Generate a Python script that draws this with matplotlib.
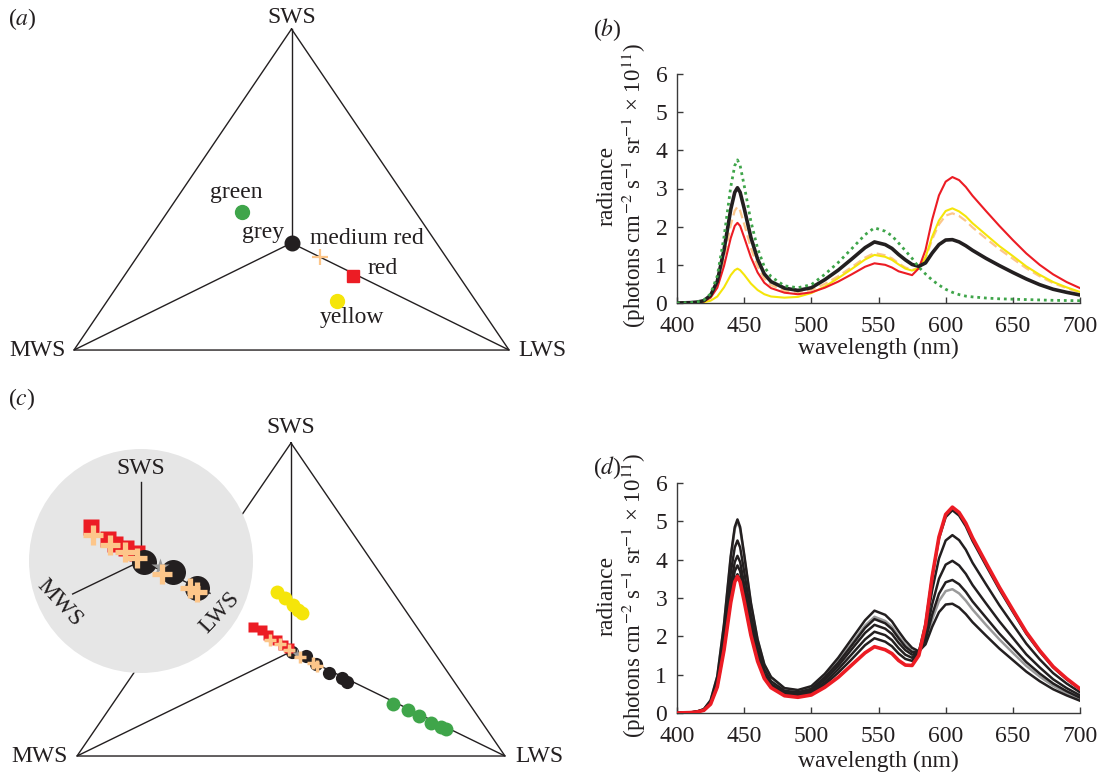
import matplotlib
matplotlib.use('Agg')
import matplotlib.pyplot as plt
from matplotlib.patches import Circle

plt.rcParams['font.family'] = ['Liberation Serif', 'DejaVu Serif']
plt.rcParams['mathtext.fontset'] = 'stix'
FS = 17
INK = '#231f20'
C_GREEN = '#3fa54a'
C_YELLOW = '#f5e50a'
C_RED = '#ec1c24'
C_PEACH = '#fdc68a'
C_GREY = '#9a9a9a'

# ---------------- data ----------------
# Maxwell triangle vertices (SWS, MWS, LWS)
VERT_NAMES = ['SWS', 'MWS', 'LWS']
VERT_X = [0.0, -0.866, 0.866]
VERT_Y = [1.0, -0.5, -0.5]

# panel (a): stimulus loci
A_NAMES = ['green', 'grey', 'medium red', 'red', 'yellow']
A_X = [-0.196, 0.0, 0.113, 0.246, 0.180]
A_Y = [0.1435, 0.0, -0.067, -0.154, -0.271]

# panel (c): loci of stimulus sets
C_YELLOW_X = [-0.058, -0.024, 0.009, 0.030, 0.043]
C_YELLOW_Y = [0.287, 0.256, 0.224, 0.200, 0.184]
C_RED_X = [-0.153, -0.119, -0.092, -0.058, -0.031, -0.007]
C_RED_Y = [0.117, 0.104, 0.080, 0.056, 0.032, 0.016]
C_MRED_X = [-0.085, -0.045, -0.007, 0.036, 0.090, 0.106]
C_MRED_Y = [0.056, 0.037, 0.008, -0.027, -0.056, -0.069]
C_GREYSET_X = [0.003, 0.061, 0.101, 0.154, 0.205, 0.225]
C_GREYSET_Y = [0.000, -0.021, -0.061, -0.101, -0.128, -0.144]
C_STAR_X = [0.023]
C_STAR_Y = [-0.011]
C_GREEN_X = [0.414, 0.475, 0.519, 0.567, 0.607, 0.627]
C_GREEN_Y = [-0.251, -0.280, -0.307, -0.340, -0.359, -0.371]

# panel (c) inset (magnified centre)
I_RED_X = [-0.662, -0.430, -0.342, -0.197, -0.057]
I_RED_Y = [0.451, 0.289, 0.224, 0.167, 0.101]
I_MRED_X = [-0.636, -0.408, -0.210, -0.057, 0.272, 0.645, 0.733]
I_MRED_Y = [0.342, 0.210, 0.118, 0.036, -0.171, -0.355, -0.408]
I_GREYSET_X = [0.039, 0.417, 0.733]
I_GREYSET_Y = [-0.009, -0.141, -0.359]
I_STAR_X = [0.25]
I_STAR_Y = [-0.075]
I_ARM_X = [0.0, -0.899, 0.908]
I_ARM_Y = [1.04, -0.434, -0.425]

# spectra
WL = [400, 410, 415, 420, 425, 430, 435, 440, 443, 445, 447, 450, 455, 460, 465,
      470, 480, 490, 500, 510, 520, 530, 540, 547, 555, 560, 565, 570, 575, 580,
      585, 590, 595, 600, 605, 610, 615, 620, 630, 640, 650, 660, 670, 680, 690, 700]

# panel (b)
B_GREY = [0, 0.009, 0.024, 0.06, 0.20, 0.57, 1.39, 2.45, 2.90, 3.02, 2.90, 2.48, 1.72, 1.15, 0.76,
          0.56, 0.39, 0.33, 0.40, 0.61, 0.86, 1.15, 1.45, 1.60, 1.53, 1.43, 1.27, 1.13, 1.01, 0.96,
          1.05, 1.31, 1.53, 1.65, 1.66, 1.60, 1.50, 1.38, 1.17, 0.98, 0.80, 0.63, 0.48, 0.36, 0.28, 0.21]
B_RED = [0, 0.006, 0.017, 0.04, 0.14, 0.40, 0.97, 1.70, 2.02, 2.10, 2.02, 1.72, 1.20, 0.80, 0.53,
         0.39, 0.27, 0.23, 0.28, 0.40, 0.56, 0.75, 0.95, 1.04, 1.00, 0.93, 0.83, 0.78, 0.73, 0.91,
         1.39, 2.19, 2.82, 3.18, 3.30, 3.22, 3.04, 2.81, 2.41, 2.02, 1.65, 1.30, 1.00, 0.75, 0.55, 0.39]
B_YELLOW = [0, 0.003, 0.007, 0.02, 0.06, 0.17, 0.41, 0.73, 0.86, 0.90, 0.86, 0.74, 0.51, 0.34, 0.23,
            0.17, 0.14, 0.16, 0.26, 0.43, 0.65, 0.89, 1.14, 1.26, 1.21, 1.13, 1.01, 0.90, 0.85, 0.91,
            1.20, 1.74, 2.16, 2.41, 2.48, 2.40, 2.27, 2.09, 1.79, 1.49, 1.23, 0.96, 0.74, 0.55, 0.41, 0.29]
B_MEDRED = [0, 0.008, 0.02, 0.05, 0.16, 0.48, 1.16, 2.04, 2.42, 2.52, 2.42, 2.07, 1.44, 0.96, 0.64,
            0.47, 0.32, 0.29, 0.34, 0.50, 0.70, 0.94, 1.19, 1.31, 1.25, 1.17, 1.04, 0.93, 0.87, 0.91,
            1.17, 1.67, 2.06, 2.29, 2.35, 2.28, 2.15, 1.98, 1.69, 1.41, 1.16, 0.91, 0.70, 0.52, 0.39, 0.27]
B_GREEN = [0, 0.011, 0.03, 0.075, 0.24, 0.71, 1.73, 3.04, 3.60, 3.75, 3.60, 3.08, 2.14, 1.43, 0.95,
           0.69, 0.45, 0.40, 0.48, 0.75, 1.06, 1.42, 1.79, 1.97, 1.88, 1.76, 1.57, 1.37, 1.17, 0.94,
           0.76, 0.60, 0.47, 0.36, 0.28, 0.22, 0.18, 0.16, 0.13, 0.11, 0.10, 0.09, 0.08, 0.07, 0.065, 0.06]

# panel (d): grey-to-red series
D_S1 = [0, 0.015, 0.04, 0.10, 0.33, 0.96, 2.32, 4.09, 4.85, 5.05, 4.85, 4.14, 2.88, 1.92, 1.27,
        0.94, 0.65, 0.60, 0.70, 1.02, 1.44, 1.93, 2.42, 2.67, 2.56, 2.39, 2.13, 1.89, 1.70, 1.61,
        1.79, 2.25, 2.63, 2.83, 2.85, 2.75, 2.58, 2.37, 2.02, 1.68, 1.38, 1.08, 0.83, 0.62, 0.46, 0.32]
D_S2 = [0, 0.015, 0.04, 0.10, 0.33, 0.95, 2.30, 4.05, 4.80, 5.00, 4.80, 4.10, 2.85, 1.90, 1.26,
        0.93, 0.64, 0.58, 0.67, 0.96, 1.36, 1.81, 2.28, 2.51, 2.40, 2.25, 2.00, 1.78, 1.62, 1.58,
        1.86, 2.44, 2.92, 3.18, 3.23, 3.12, 2.93, 2.70, 2.30, 1.92, 1.57, 1.23, 0.95, 0.71, 0.52, 0.37]
D_S3 = [0, 0.014, 0.036, 0.09, 0.29, 0.86, 2.07, 3.65, 4.32, 4.50, 4.32, 3.69, 2.57, 1.71, 1.14,
        0.83, 0.58, 0.54, 0.63, 0.93, 1.31, 1.76, 2.22, 2.45, 2.34, 2.19, 1.95, 1.73, 1.59, 1.59,
        1.91, 2.57, 3.11, 3.41, 3.47, 3.36, 3.16, 2.91, 2.49, 2.07, 1.70, 1.33, 1.03, 0.77, 0.57, 0.40]
D_S4 = [0, 0.012, 0.033, 0.08, 0.27, 0.78, 1.89, 3.32, 3.94, 4.10, 3.94, 3.36, 2.34, 1.56, 1.03,
        0.76, 0.53, 0.50, 0.59, 0.87, 1.23, 1.66, 2.09, 2.30, 2.20, 2.06, 1.83, 1.64, 1.52, 1.58,
        2.02, 2.84, 3.50, 3.87, 3.97, 3.85, 3.63, 3.34, 2.86, 2.39, 1.96, 1.53, 1.19, 0.88, 0.65, 0.46]
D_S5 = [0, 0.012, 0.031, 0.08, 0.25, 0.73, 1.77, 3.12, 3.70, 3.85, 3.70, 3.16, 2.19, 1.46, 0.97,
        0.71, 0.50, 0.47, 0.55, 0.80, 1.14, 1.53, 1.92, 2.12, 2.03, 1.90, 1.69, 1.52, 1.44, 1.59,
        2.18, 3.21, 4.03, 4.50, 4.64, 4.51, 4.26, 3.92, 3.36, 2.81, 2.31, 1.81, 1.40, 1.04, 0.77, 0.54]
D_S6 = [0, 0.011, 0.029, 0.07, 0.24, 0.69, 1.67, 2.93, 3.48, 3.62, 3.48, 2.97, 2.06, 1.38, 0.91,
        0.67, 0.47, 0.43, 0.51, 0.74, 1.05, 1.40, 1.77, 1.95, 1.86, 1.74, 1.55, 1.41, 1.36, 1.59,
        2.33, 3.56, 4.55, 5.11, 5.29, 5.15, 4.87, 4.49, 3.85, 3.22, 2.64, 2.07, 1.60, 1.19, 0.88, 0.62]
D_RED = [0, 0.011, 0.028, 0.07, 0.23, 0.68, 1.64, 2.88, 3.42, 3.56, 3.42, 2.92, 2.03, 1.35, 0.90,
         0.66, 0.45, 0.41, 0.47, 0.67, 0.93, 1.25, 1.57, 1.73, 1.65, 1.55, 1.37, 1.25, 1.24, 1.50,
         2.28, 3.57, 4.59, 5.18, 5.37, 5.23, 4.95, 4.57, 3.92, 3.28, 2.69, 2.11, 1.63, 1.21, 0.90, 0.63]

X_TICKS = [400, 450, 500, 550, 600, 650, 700]
Y_TICKS = [0, 1, 2, 3, 4, 5, 6]

# ---------------- figure ----------------
FW, FH = 1104, 774
fig = plt.figure(figsize=(FW / 100, FH / 100), dpi=100)


def px_axes(l, t, r, b):
    return fig.add_axes([l / FW, 1 - b / FH, (r - l) / FW, (b - t) / FH])


def fig_text(x, y, s, **kw):
    kw.setdefault('fontsize', FS)
    fig.text(x / FW, 1 - y / FH, s, color=INK, **kw)


def draw_triangle(ax, lbl_pos):
    xs = VERT_X + [VERT_X[0]]
    ys = VERT_Y + [VERT_Y[0]]
    ax.plot(xs, ys, color=INK, lw=1.0, solid_joinstyle='miter', zorder=1)
    for vx, vy in zip(VERT_X, VERT_Y):
        ax.plot([0, vx], [0, vy], color=INK, lw=1.0, zorder=1)
    for name, (lx, ly, ha) in zip(VERT_NAMES, lbl_pos):
        ax.text(lx, ly, name, ha=ha, va='center', fontsize=FS, color=INK)


# ---- panel (a)
axA = px_axes(0, 0, 600, 380)
axA.set_xlim(-1.1605, 1.2281)
axA.set_ylim(-0.640, 1.1355)
axA.axis('off')
draw_triangle(axA, [(0.0, 1.056, 'center'), (-0.898, -0.5, 'right'), (0.902, -0.5, 'left')])
a_style = {
    'green': dict(marker='o', color=C_GREEN, ms=10),
    'grey': dict(marker='o', color=INK, ms=10.5),
    'medium red': dict(marker='+', color=C_PEACH, ms=11, mew=1.6),
    'red': dict(marker='s', color=C_RED, ms=8),
    'yellow': dict(marker='o', color=C_YELLOW, ms=10),
}
A_LABEL_POS = [(-0.218, 0.238), (-0.115, 0.048), (0.299, 0.020), (0.363, -0.120), (0.240, -0.349)]
for name, x, y, (lx, ly) in zip(A_NAMES, A_X, A_Y, A_LABEL_POS):
    axA.plot([x], [y], ls='none', zorder=3, **a_style[name])
    axA.text(lx, ly, name, ha='center', va='center', fontsize=FS, color=INK)

# ---- panel (c)
axC = px_axes(0, 420, 600, 774)
axC.set_xlim(-1.1777, 1.2505)
axC.set_ylim(-0.5862, 1.1102)
axC.axis('off')
draw_triangle(axC, [(0.0, 1.072, 'center'), (-0.902, -0.5, 'right'), (0.906, -0.5, 'left')])
axC.plot(C_YELLOW_X, C_YELLOW_Y, ls='none', marker='o', ms=10, color=C_YELLOW, mec='none', zorder=3)
axC.plot(C_GREEN_X, C_GREEN_Y, ls='none', marker='o', ms=10, color=C_GREEN, mec='none', zorder=3)
axC.plot(C_GREYSET_X, C_GREYSET_Y, ls='none', marker='o', ms=9.5, color=INK, mec='none', zorder=3)
axC.plot(C_RED_X, C_RED_Y, ls='none', marker='s', ms=7.5, color=C_RED, mec='none', zorder=4)
axC.plot(C_STAR_X, C_STAR_Y, ls='none', marker='*', ms=8, color=C_GREY, mec='none', zorder=5)
axC.plot(C_MRED_X, C_MRED_Y, ls='none', marker='+', ms=9, mew=2.5, color=C_PEACH, zorder=5)

# inset
axI = px_axes(29, 449, 253, 673)
R_IN = 1.4737
axI.set_xlim(-R_IN, R_IN)
axI.set_ylim(-R_IN, R_IN)
axI.axis('off')
axI.add_patch(Circle((0, 0), R_IN, fc='#e6e6e6', ec='none', clip_on=False, zorder=0))
for vx, vy in zip(I_ARM_X, I_ARM_Y):
    axI.plot([0, vx], [0, vy], color=INK, lw=1.0, zorder=1)
axI.text(0.0, 1.22, 'SWS', ha='center', va='center', fontsize=FS, color=INK)
axI.text(-1.075, -0.557, 'MWS', ha='center', va='center', fontsize=FS, color=INK, rotation=-47)
axI.text(1.039, -0.680, 'LWS', ha='center', va='center', fontsize=FS, color=INK, rotation=47)
axI.plot(I_RED_X, I_RED_Y, ls='none', marker='s', ms=12, color=C_RED, mec='none', zorder=3)
axI.plot(I_GREYSET_X, I_GREYSET_Y, ls='none', marker='o', ms=18, color=INK, mec='none', zorder=3)
axI.plot(I_STAR_X, I_STAR_Y, ls='none', marker='*', ms=13, color=C_GREY, mec='none', zorder=4)
axI.plot(I_MRED_X, I_MRED_Y, ls='none', marker='+', ms=14, mew=3.8, color=C_PEACH, zorder=5)


def style_spec_axes(ax):
    ax.set_xlim(400, 700)
    ax.set_ylim(0, 6)
    ax.set_xticks(X_TICKS)
    ax.set_yticks(Y_TICKS)
    for s in ['top', 'right']:
        ax.spines[s].set_visible(False)
    for s in ['left', 'bottom']:
        ax.spines[s].set_color('#3a3a3a')
        ax.spines[s].set_linewidth(1.0)
    ax.tick_params(direction='in', length=4, width=1, color='#3a3a3a',
                   labelsize=FS, labelcolor=INK)
    ax.tick_params(axis='x', pad=9)
    ax.tick_params(axis='y', pad=7)
    ax.patch.set_alpha(0)


YLAB1 = 'radiance'
YLAB2 = '(photons cm$^{-2}$ s$^{-1}$ sr$^{-1}$ × 10$^{11}$)'

# ---- panel (b)
axB = px_axes(677, 74, 1080, 303)
style_spec_axes(axB)
axB.plot(WL, B_MEDRED, color=C_PEACH, lw=1.6, ls=(0, (4, 2)), zorder=2)
axB.plot(WL, B_YELLOW, color=C_YELLOW, lw=1.5, zorder=3)
axB.plot(WL, B_RED, color=C_RED, lw=1.5, zorder=3)
axB.plot(WL, B_GREY, color=INK, lw=2.6, zorder=4)
axB.plot(WL, B_GREEN, color=C_GREEN, lw=2.0, ls=(0, (1, 1.4)), zorder=5)

# ---- panel (d)
axD = px_axes(677, 483, 1080, 713)
style_spec_axes(axD)
axD.plot(WL, D_S2, color=C_GREY, lw=1.8, zorder=2)
for s in [D_S1, D_S3, D_S4, D_S5, D_S6]:
    axD.plot(WL, s, color=INK, lw=1.8, zorder=3)
axD.plot(WL, D_RED, color=C_RED, lw=2.6, zorder=4)

for yc in [186, 596]:
    fig_text(607, yc, YLAB1, rotation=90, ha='center', va='center')
    fig_text(634, yc, YLAB2, rotation=90, ha='center', va='center', fontsize=16.5)
for yc in [348, 761]:
    fig_text(878, yc, 'wavelength (nm)', ha='center', va='center')

fig_text(22, 19, r'($\mathit{a}$)', ha='center', va='center')
fig_text(607, 30, r'($\mathit{b}$)', ha='center', va='center')
fig_text(22, 399, r'($\mathit{c}$)', ha='center', va='center')
fig_text(607, 468, r'($\mathit{d}$)', ha='center', va='center')

fig.savefig('out.png', dpi=100)
